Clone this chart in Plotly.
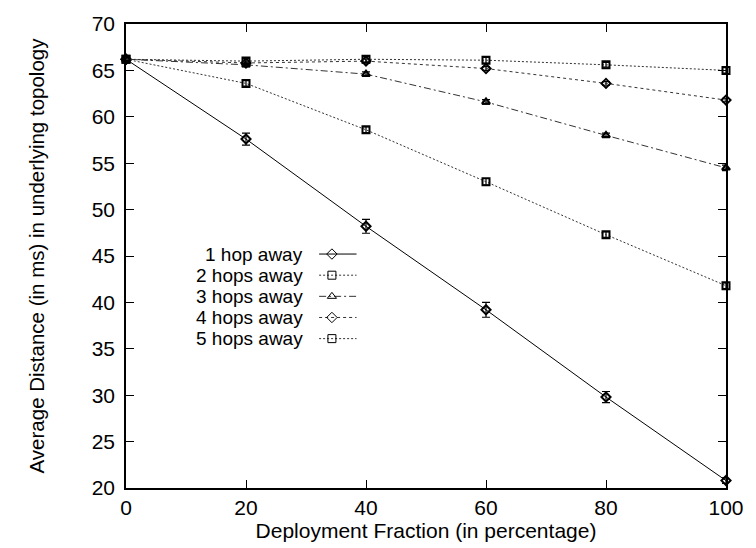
import plotly.graph_objects as go

# ---- data ----
fraction = [0, 20, 40, 60, 80, 100]
series_names = ["1 hop away", "2 hops away", "3 hops away", "4 hops away", "5 hops away"]
hop1 = [66.2, 57.6, 48.2, 39.2, 29.8, 20.8]
hop2 = [66.2, 63.6, 58.6, 53.0, 47.3, 41.8]
hop3 = [66.2, 65.6, 64.6, 61.6, 58.0, 54.5]
hop4 = [66.2, 65.8, 66.0, 65.2, 63.6, 61.8]
hop5 = [66.2, 66.0, 66.2, 66.1, 65.6, 65.0]
err1 = [0.3, 0.65, 0.75, 0.8, 0.6, 0.3]
err2 = [0.3, 0.3, 0.3, 0.35, 0.3, 0.3]
err3 = [0.3, 0.2, 0.25, 0.25, 0.25, 0.3]
err4 = [0.3, 0.2, 0.2, 0.2, 0.2, 0.2]
err5 = [0.3, 0.3, 0.3, 0.3, 0.25, 0.3]
x_ticks = [0, 20, 40, 60, 80, 100]
y_ticks = [20, 25, 30, 35, 40, 45, 50, 55, 60, 65, 70]

values = [hop1, hop2, hop3, hop4, hop5]
errors = [err1, err2, err3, err4, err5]
symbols = ["diamond-open", "square-open", "triangle-up-open", "diamond-open", "square-open"]
dashes = ["solid", "2px,2px", "7px,3px,2px,3px", "3px,3px", "2px,2px"]
colors = ["#000000", "#333333", "#333333", "#333333", "#333333"]

FONT = "Liberation Sans, Arial, Helvetica, sans-serif"
FS = 21
fig = go.Figure()

for name, y, e, sym, d, c in zip(series_names, values, errors, symbols, dashes, colors):
    fig.add_trace(go.Scatter(
        x=fraction, y=y, name=name, mode="lines+markers",
        line=dict(color=c, width=1, dash=d),
        marker=dict(symbol=sym, size=7, color="#000000", line=dict(color="#000000", width=2)),
        error_y=dict(type="data", array=e, visible=True, color="#000000", thickness=1.2, width=4),
        cliponaxis=False, showlegend=False,
    ))

# ---- custom gnuplot-style legend (text, then sample) in pixel coordinates on overlay axes ----
L_TEXT_RIGHT = 307
L_SAMPLE_X0, L_SAMPLE_X1, L_MARK_X = 322, 360, 335
L_TOP, L_STEP = 249, 21.6
L_FS = 19
for i, (name, sym, d, c) in enumerate(zip(series_names, symbols, dashes, colors)):
    yy = L_TOP + i * L_STEP
    fig.add_annotation(x=L_TEXT_RIGHT, y=yy, xref="x2", yref="y2", text=name, showarrow=False,
                       xanchor="right", yanchor="middle", borderpad=0,
                       font=dict(family=FONT, size=L_FS, color="#000"))
    fig.add_trace(go.Scatter(x=[L_SAMPLE_X0, L_SAMPLE_X1], y=[yy, yy], xaxis="x2", yaxis="y2",
                             mode="lines", line=dict(color=c, width=1, dash=d),
                             showlegend=False, hoverinfo="skip"))
    fig.add_trace(go.Scatter(x=[L_MARK_X], y=[yy], xaxis="x2", yaxis="y2", mode="markers",
                             marker=dict(symbol=sym, size=8, color="#000", line=dict(color="#000", width=1)),
                             showlegend=False, hoverinfo="skip"))

axis_common = dict(showgrid=False, zeroline=False, showline=True, linecolor="#000", linewidth=1.5,
                   mirror="ticks", ticks="inside", ticklen=8, tickwidth=1, tickcolor="#000",
                   tickfont=dict(family=FONT, size=FS, color="#000"))

fig.update_layout(
    width=756, height=548,
    margin=dict(l=126, r=21, t=14, b=60),
    paper_bgcolor="white", plot_bgcolor="white",
    font=dict(family=FONT, size=FS, color="#000"),
    xaxis=dict(range=[0, 100], tickvals=x_ticks, ticktext=[str(v) for v in x_ticks],
               title=dict(text="Deployment Fraction (in percentage)", standoff=0,
                          font=dict(family=FONT, size=FS, color="#000")),
               **axis_common),
    yaxis=dict(range=[20, 70], tickvals=y_ticks, ticktext=[str(v) for v in y_ticks],
               ticklabelstandoff=5,
               title=dict(text="Average Distance (in ms) in underlying topology", standoff=42,
                          font=dict(family=FONT, size=20.5, color="#000")),
               **axis_common),
    xaxis2=dict(overlaying="x", range=[126, 735], visible=False, anchor="y2"),
    yaxis2=dict(overlaying="y", range=[488, 14], visible=False, anchor="x2"),
    showlegend=False,
)

fig.write_html("out.html")
